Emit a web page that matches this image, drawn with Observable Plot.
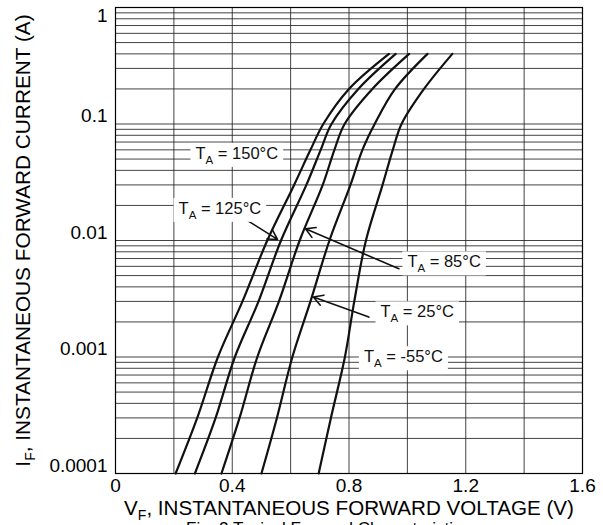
<!DOCTYPE html>
<html><head><meta charset="utf-8">
<script src="https://cdn.jsdelivr.net/npm/d3@7"></script>
<script src="https://cdn.jsdelivr.net/npm/@observablehq/plot@0.6"></script>
<style>
body{margin:0;background:#fff;font-family:"Liberation Sans",Arial,sans-serif;}
#cap{font-size:17px;line-height:17px;padding-left:186px;margin-top:3px;color:#000;white-space:nowrap;}
</style></head><body>
<div id="chart"></div>
<div id="cap">Fig. 2 Typical Forward Characteristics</div>
<script>
// Forward current levels (A) at which voltages were read
const currentA = [0.0001, 0.0003, 0.001, 0.003, 0.01, 0.03, 0.06, 0.1, 0.2, 0.4];
// Forward voltage (V) for each temperature
const vf150 = [0.206, 0.280, 0.351, 0.435, 0.520, 0.612, 0.668, 0.712, 0.800, 0.937];
const vf125 = [0.272, 0.343, 0.409, 0.490, 0.567, 0.654, 0.703, 0.740, 0.832, 0.960];
const vf85  = [0.363, 0.425, 0.486, 0.560, 0.631, 0.710, 0.750, 0.785, 0.880, 1.006];
const vf25  = [0.500, 0.553, 0.606, 0.668, 0.733, 0.805, 0.846, 0.888, 0.958, 1.069];
const vfm55 = [0.696, 0.738, 0.786, 0.818, 0.858, 0.915, 0.950, 0.980, 1.057, 1.154];
const seriesNames = ["150°C", "125°C", "85°C", "25°C", "-55°C"];

// Axis ticks
const xTicks = [0, 0.4, 0.8, 1.2, 1.6];
const xTickLabels = ["0", "0.4", "0.8", "1.2", "1.6"];
const xGridValues = [0.2, 0.4, 0.6, 0.8, 1.0, 1.2, 1.4];
const yTicks = [0.0001, 0.001, 0.01, 0.1];
const yTickLabels = ["0.0001", "0.001", "0.01", "0.1"];
const yTopTick = [1];
const yTopTickLabel = ["1"];
const yGridMantissa = [1, 2, 3, 4, 5, 6, 7, 8, 9];
const yGridDecades = [0.0001, 0.001, 0.01, 0.1];
const xTitle = "VF, INSTANTANEOUS FORWARD VOLTAGE (V)";
const yTitle = "IF, INSTANTANEOUS FORWARD CURRENT (A)";

// Annotations
const labelText = ["T_A = 150°C", "T_A = 125°C", "T_A = 85°C", "T_A = 25°C", "T_A = -55°C"];
const labelV = [0.274, 0.216, 1.000, 0.908, 0.851];
const labelI = [0.0557, 0.0188, 0.00652, 0.00243, 0.00100];
const arrowFromV = [0.4525, 0.971, 0.868];
const arrowFromI = [0.01483, 0.00572, 0.00220];
const arrowToV = [0.555, 0.651, 0.678];
const arrowToI = [0.01021, 0.01259, 0.00327];

const rows = [];
[vf150, vf125, vf85, vf25, vfm55].forEach((vs, k) =>
  vs.forEach((v, i) => rows.push({t: seriesNames[k], v, i: currentA[i]})));
const yGrid = yGridDecades.flatMap(d => yGridMantissa.map(m => m * d)).concat(yTopTick);
const labels = labelText.map((s, k) => ({s, v: labelV[k], i: labelI[k]}));
const arrows = arrowFromV.map((_, k) => ({x1: arrowFromV[k], y1: arrowFromI[k], x2: arrowToV[k], y2: arrowToI[k]}));

const FONT = "'Liberation Sans', Arial, sans-serif";
const chart = Plot.plot({
  width: 603, height: 517,
  marginLeft: 115, marginRight: 21, marginTop: 7, marginBottom: 44,
  style: {fontFamily: FONT, fontSize: "19px", background: "#fff", color: "#000", overflow: "visible"},
  x: {domain: [0, 1.6]},
  y: {type: "log", domain: [0.0001, 1]},
  marks: [
    Plot.gridY(yGrid, {stroke: "#222", strokeOpacity: 0.85, strokeWidth: 1}),
    Plot.gridX(xGridValues, {stroke: "#222", strokeOpacity: 0.85, strokeWidth: 1}),
    Plot.frame({stroke: "#000", strokeWidth: 1.2}),
    Plot.axisX(xTicks, {tickSize: 0, tickPadding: 5, fontSize: 19,
      tickFormat: d => xTickLabels[xTicks.indexOf(d)], label: null}),
    Plot.axisX([], {tickSize: 0, fontSize: 20.6,
      label: xTitle, labelAnchor: "center", labelArrow: "none", labelOffset: 41}),
    Plot.axisY(yTicks, {tickSize: 0, tickPadding: 8, dy: -8, fontSize: 19,
      tickFormat: d => yTickLabels[yTicks.indexOf(d)], label: null}),
    Plot.axisY(yTopTick, {tickSize: 0, tickPadding: 8, dy: 8, fontSize: 19,
      tickFormat: d => yTopTickLabel[yTopTick.indexOf(d)], label: null}),
    Plot.axisY([], {tickSize: 0, fontSize: 20.8,
      label: yTitle, labelAnchor: "center", labelArrow: "none", labelOffset: 100}),
    Plot.line(rows, {x: "v", y: "i", z: "t", stroke: "#111", strokeWidth: 2.2, curve: "catmull-rom"}),
    Plot.arrow(arrows, {x1: "x1", y1: "y1", x2: "x2", y2: "y2", stroke: "#111", strokeWidth: 1.6, headLength: 10}),
    Plot.text(labels, {x: "v", y: "i", text: "s", textAnchor: "start", fontSize: 16.5, fill: "#111", className: "ta-label"})
  ]
});
document.getElementById("chart").appendChild(chart);

const NS = "http://www.w3.org/2000/svg";
function subscriptify(textEl, main, sub, rest, subSize, shift) {
  textEl.textContent = "";
  const a = document.createElementNS(NS, "tspan"); a.textContent = main;
  const b = document.createElementNS(NS, "tspan"); b.textContent = sub;
  b.setAttribute("dy", shift); b.setAttribute("font-size", subSize);
  const c = document.createElementNS(NS, "tspan"); c.textContent = rest;
  c.setAttribute("dy", -shift);
  textEl.append(a, b, c);
}
// T_A labels with white boxes
chart.querySelectorAll("g.ta-label text").forEach(t => {
  const s = t.textContent;
  subscriptify(t, "T", "A", s.slice(3), 11.5, 5);
  const bb = t.getBBox();
  const r = document.createElementNS(NS, "rect");
  r.setAttribute("x", bb.x - 5); r.setAttribute("y", bb.y - 1);
  r.setAttribute("width", bb.width + 10); r.setAttribute("height", bb.height + 2);
  r.setAttribute("fill", "#fff");
  r.setAttribute("stroke", "none");
  const tr = t.getAttribute("transform");
  if (tr) r.setAttribute("transform", tr);
  t.parentNode.insertBefore(r, t);
});
// Axis titles with subscripts
const xl = chart.querySelector('g[aria-label="x-axis label"] text');
if (xl) subscriptify(xl, "V", "F", xl.textContent.slice(2), 14, 5);
const yl = chart.querySelector('g[aria-label="y-axis label"] text');
if (yl) subscriptify(yl, "I", "F", yl.textContent.slice(2), 14, 5);
</script>
</body></html>
